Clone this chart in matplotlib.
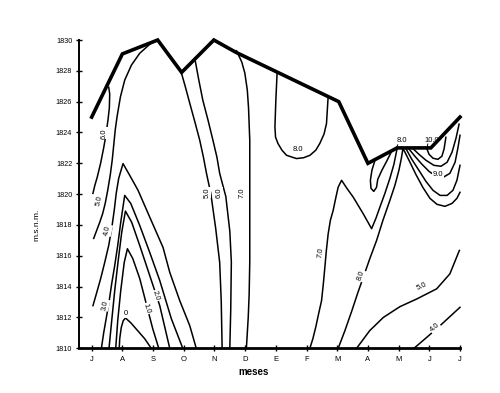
import matplotlib.pyplot as plt

# meses (posicion 0 = J ... 12 = J)
month_labels = ['J', 'A', 'S', 'O', 'N', 'D', 'E', 'F', 'M', 'A', 'M', 'J', 'J']
elev_ticks = [1810, 1812, 1814, 1816, 1818, 1820, 1822, 1824, 1826, 1828, 1830]

# nivel de la superficie (linea gruesa)
surf_m = [0.0, 1.0, 2.15, 2.93, 3.98, 4.7, 8.05, 9.0, 9.95, 11.05, 12.0]
surf_z = [1825.0, 1829.1, 1830.0, 1827.9, 1830.0, 1829.2, 1826.0, 1822.0, 1823.0, 1823.0, 1825.0]

# isolineas (mes, elevacion)
iso6_left_m = [0.554, 0.587, 0.575, 0.53, 0.46, 0.39, 0.29, 0.18, 0.10, 0.04]
iso6_left_z = [1826.94, 1826.5, 1825.6, 1824.8, 1823.8, 1823.0, 1822.0, 1821.1, 1820.55, 1820.05]

iso5_left_m = [0.065, 0.163, 0.261, 0.359, 0.44, 0.522, 0.603, 0.668, 0.717, 0.766, 0.825, 0.936, 1.076, 1.294, 1.565, 1.946]
iso5_left_z = [1817.13, 1817.65, 1818.17, 1818.75, 1819.4, 1820.25, 1821.22, 1822.2, 1823.17, 1824.15, 1825.01, 1826.31, 1827.4, 1828.37, 1829.14, 1829.82]

iso4_left_m = [0.042, 0.163, 0.293, 0.424, 0.554, 0.652, 0.734, 0.799, 0.88, 1.021, 1.239, 1.51, 1.891, 2.325, 2.543, 2.869, 3.195, 3.407]
iso4_left_z = [1812.77, 1813.61, 1814.53, 1815.57, 1816.67, 1817.78, 1818.95, 1820.05, 1821.03, 1821.98, 1821.22, 1820.25, 1818.51, 1816.54, 1814.93, 1813.09, 1811.47, 1810.0]

iso3_m = [0.316, 0.391, 0.479, 0.571, 0.652, 0.75, 0.848, 0.946, 1.027, 1.076, 1.272, 1.565, 1.891, 2.217, 2.595, 2.967]
iso3_z = [1810.0, 1811.01, 1812.01, 1813.09, 1814.2, 1815.37, 1816.67, 1818.17, 1819.27, 1819.92, 1819.4, 1817.97, 1816.22, 1814.4, 1811.92, 1810.0]

iso2_m = [0.564, 0.652, 0.75, 0.864, 0.978, 1.099, 1.304, 1.565, 1.891, 2.217, 2.543]
iso2_z = [1810.0, 1811.79, 1813.74, 1815.7, 1817.52, 1818.9, 1818.17, 1816.67, 1814.72, 1812.77, 1810.0]

iso1_m = [0.783, 0.848, 0.946, 1.06, 1.164, 1.337, 1.565, 1.793, 1.989, 2.185]
iso1_z = [1810.0, 1811.79, 1813.74, 1815.57, 1816.46, 1815.83, 1814.53, 1812.77, 1811.27, 1810.0]

iso0_m = [0.897, 0.913, 0.962, 1.027, 1.099, 1.272, 1.5, 1.728, 1.94]
iso0_z = [1810.0, 1810.62, 1811.34, 1811.79, 1811.97, 1811.66, 1811.14, 1810.62, 1810.0]

iso5_n_m = [2.925, 3.06, 3.195, 3.36, 3.52, 3.64, 3.74, 3.88, 4.04, 4.17, 4.22, 4.25]
iso5_n_z = [1827.85, 1826.9, 1825.9, 1824.7, 1823.5, 1822.4, 1821.35, 1820.05, 1817.78, 1815.57, 1813.1, 1810.0]

iso6_n_m = [3.36, 3.49, 3.62, 3.79, 3.95, 4.08, 4.17, 4.37, 4.5, 4.55, 4.53, 4.5]
iso6_n_z = [1828.8, 1827.4, 1826.1, 1824.8, 1823.5, 1822.4, 1821.35, 1819.85, 1817.6, 1815.6, 1812.5, 1810.0]

iso7_n_m = [4.72, 4.89, 4.99, 5.07, 5.11, 5.15, 5.15, 5.15, 5.13, 5.1, 5.04]
iso7_n_z = [1829.3, 1828.57, 1827.85, 1826.75, 1825.6, 1823.5, 1819.8, 1815.6, 1813.5, 1812.0, 1810.0]

iso8_loop_m = [6.04, 6.0, 5.97, 5.99, 6.07, 6.2, 6.35, 6.67, 6.9, 7.11, 7.3, 7.43, 7.57, 7.65, 7.70]
iso8_loop_z = [1827.83, 1826.1, 1824.36, 1823.7, 1823.28, 1822.85, 1822.52, 1822.31, 1822.36, 1822.52, 1822.85, 1823.28, 1823.9, 1824.58, 1826.2]

iso7_f_m = [7.108, 7.206, 7.303, 7.401, 7.489, 7.548, 7.597, 7.646, 7.705, 7.776, 7.868, 7.956, 8.031, 8.142,
            8.314, 8.52, 8.846, 9.12, 9.26, 9.39, 9.553, 9.716, 9.847, 9.95]
iso7_f_z = [1810.0, 1810.62, 1811.4, 1812.31, 1813.09, 1814.2, 1815.26, 1816.35, 1817.43, 1818.3, 1818.95, 1819.79, 1820.46, 1820.9,
            1820.38, 1819.81, 1818.73, 1817.76, 1818.43, 1819.16, 1820.05, 1821.03, 1821.94, 1822.95]

iso8_m_m = [8.031, 8.249, 8.477, 8.673, 8.846, 9.064, 9.283, 9.488, 9.716, 9.879, 10.01, 10.09, 10.14,
            10.2, 10.37, 10.56, 10.79, 11.02, 11.25, 11.51, 11.74, 11.9, 12.0]
iso8_m_z = [1810.0, 1811.14, 1812.44, 1813.62, 1814.59, 1815.83, 1817.0, 1818.3, 1819.6, 1820.57, 1821.55, 1822.33, 1822.95,
            1822.75, 1822.07, 1821.29, 1820.44, 1819.73, 1819.34, 1819.21, 1819.4, 1819.73, 1820.12]

tongue_m = [9.23, 9.13, 9.08, 9.10, 9.19, 9.28, 9.32, 9.455, 9.62, 9.75]
tongue_z = [1822.2, 1821.55, 1820.9, 1820.38, 1820.18, 1820.44, 1820.96, 1821.55, 1822.17, 1822.69]

iso85_m = [10.24, 10.43, 10.66, 10.89, 11.12, 11.35, 11.58, 11.77, 11.9, 12.0]
iso85_z = [1822.95, 1822.26, 1821.55, 1820.83, 1820.25, 1819.92, 1819.92, 1820.25, 1820.9, 1821.87]

iso9_m = [10.33, 10.53, 10.76, 10.99, 11.22, 11.45, 11.67, 11.84, 11.93, 12.0]
iso9_z = [1822.95, 1822.46, 1821.94, 1821.48, 1821.16, 1821.09, 1821.35, 1822.07, 1822.98, 1823.82]

iso95_m = [10.47, 10.66, 10.89, 11.15, 11.38, 11.58, 11.74, 11.87, 11.97]
iso95_z = [1822.95, 1822.59, 1822.2, 1821.87, 1821.81, 1822.07, 1822.72, 1823.63, 1824.54]

iso10_m = [10.92, 10.99, 11.12, 11.28, 11.41, 11.48, 11.54]
iso10_z = [1822.95, 1822.59, 1822.33, 1822.26, 1822.46, 1822.92, 1823.69]

iso5_r_m = [8.63, 9.06, 9.5, 10.04, 10.59, 11.24, 11.67, 11.98]
iso5_r_z = [1810.0, 1811.15, 1812.0, 1812.7, 1813.2, 1813.86, 1814.83, 1816.35]

iso4_r_m = [10.5, 10.91, 11.35, 12.0]
iso4_r_z = [1810.0, 1810.7, 1811.47, 1812.66]

# etiquetas sobre las isolineas
lbl_m = [0.39, 0.26, 0.53, 0.44, 1.1, 1.79, 2.08, 3.75, 4.14, 4.91, 6.73, 7.45, 8.79, 11.28, 10.75, 11.18]
lbl_z = [1823.95, 1819.6, 1817.65, 1812.8, 1812.25, 1812.57, 1813.4, 1820.1, 1820.1, 1820.1, 1822.9, 1816.2, 1814.7, 1821.3, 1814.0, 1811.35]
lbl_txt = ['6.0', '5.0', '4.0', '3.0', '0', '1.0', '2.0', '5.0', '6.0', '7.0', '8.0', '7.0', '8.0', '9.0', '5.0', '4.0']
lbl_rot = [90, 78, 78, 78, 0, -72, -72, 90, 90, 90, 0, 82, 70, 0, 25, 40]

# etiquetas con guia sobre la superficie
top_m = [10.1, 11.09]
top_z = [1823.45, 1823.5]
top_txt = ['8.0', '10.0']
lead_m = [[9.97, 9.92], [10.95, 10.92]]
lead_z = [[1823.2, 1822.95], [1823.25, 1822.95]]

fig = plt.figure(figsize=(5.0, 3.93), dpi=100)
ax = fig.add_axes([0.157, 0.1137, 0.763, 0.7845])

lines = [
    (iso6_left_m, iso6_left_z), (iso5_left_m, iso5_left_z), (iso4_left_m, iso4_left_z),
    (iso3_m, iso3_z), (iso2_m, iso2_z), (iso1_m, iso1_z), (iso0_m, iso0_z),
    (iso5_n_m, iso5_n_z), (iso6_n_m, iso6_n_z), (iso7_n_m, iso7_n_z), (iso8_loop_m, iso8_loop_z),
    (iso7_f_m, iso7_f_z), (iso8_m_m, iso8_m_z), (tongue_m, tongue_z), (iso85_m, iso85_z),
    (iso9_m, iso9_z), (iso95_m, iso95_z), (iso10_m, iso10_z), (iso5_r_m, iso5_r_z), (iso4_r_m, iso4_r_z),
]
for xm, zm in lines:
    ax.plot(xm, zm, color='black', lw=1.1, solid_joinstyle='round', clip_on=False)

for xm, zm in zip(lead_m, lead_z):
    ax.plot(xm, zm, color='black', lw=0.7)

ax.plot(surf_m, surf_z, color='black', lw=2.6, solid_joinstyle='miter', clip_on=False, zorder=5)

for xm, zm, t, r in zip(lbl_m, lbl_z, lbl_txt, lbl_rot):
    ax.text(xm, zm, t, fontsize=5.5, rotation=r, ha='center', va='center', family='Liberation Sans',
            bbox=dict(facecolor='white', edgecolor='none', pad=0.4), zorder=4)
for xm, zm, t in zip(top_m, top_z, top_txt):
    ax.text(xm, zm, t, fontsize=5.5, ha='center', va='center', family='Liberation Sans')

ax.set_xlim(-0.43, 12)
ax.set_ylim(1810, 1830)
ax.set_xticks(range(len(month_labels)))
ax.set_xticklabels(month_labels, fontsize=5.5, family='Liberation Sans')
ax.set_yticks(elev_ticks)
ax.set_yticklabels([str(v) for v in elev_ticks], fontsize=5.2, family='Liberation Sans')
ax.tick_params(direction='inout', length=5, width=1)
ax.tick_params(axis='x', pad=3)
ax.tick_params(axis='y', pad=2)
ax.spines['top'].set_visible(False)
ax.spines['right'].set_visible(False)
ax.spines['bottom'].set_linewidth(2)
ax.spines['left'].set_linewidth(1.4)

fig.text(254 / 500, 1 - 372 / 393, 'meses', fontsize=7, fontweight='bold', family='Liberation Sans', ha='center', va='center')
fig.text(37 / 500, 1 - 225 / 393, 'm.s.n.m.', fontsize=6, family='Liberation Sans', rotation=90, ha='center', va='center')

fig.savefig('out.png', dpi=100)
